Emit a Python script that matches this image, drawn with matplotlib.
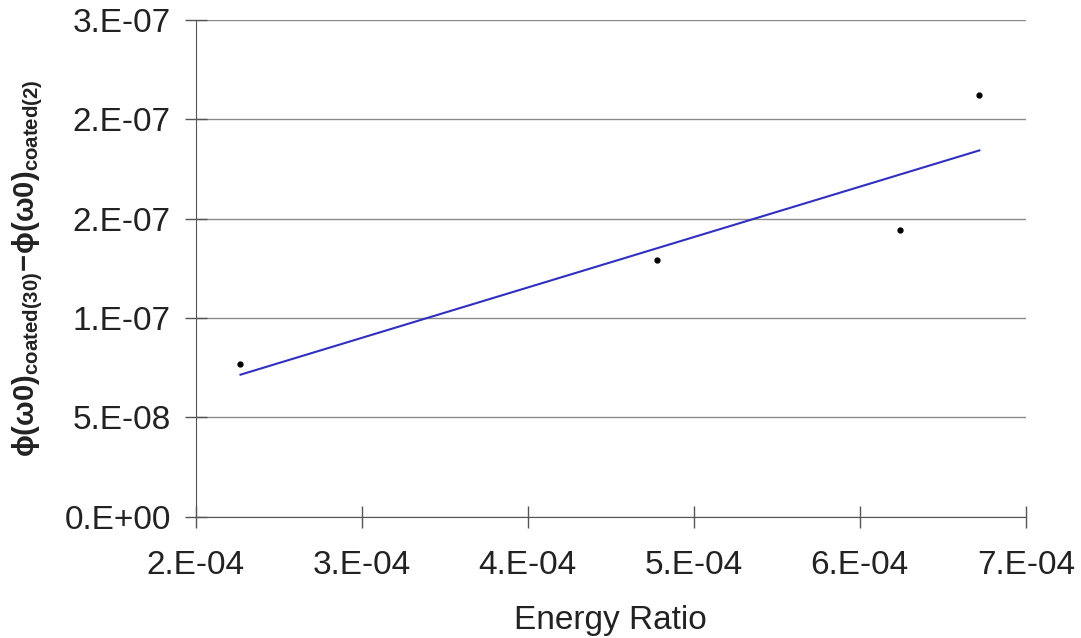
import numpy as np
import matplotlib
matplotlib.use('Agg')
from matplotlib import pyplot as plt

# values
energy_ratio = [2.27e-4, 4.78e-4, 6.24e-4, 6.72e-4]
phase_diff = [7.70e-8, 1.293e-7, 1.444e-7, 2.123e-7]

x_ticks = [2e-4, 3e-4, 4e-4, 5e-4, 6e-4, 7e-4]
x_labels = ['2.E-04', '3.E-04', '4.E-04', '5.E-04', '6.E-04', '7.E-04']
y_ticks = [0, 5e-8, 1e-7, 1.5e-7, 2e-7, 2.5e-7]
y_labels = ['0.E+00', '5.E-08', '1.E-07', '2.E-07', '2.E-07', '3.E-07']

plt.rcParams['font.family'] = ['Liberation Sans', 'DejaVu Sans']
plt.rcParams['mathtext.fontset'] = 'custom'
plt.rcParams['mathtext.rm'] = 'Liberation Sans'
plt.rcParams['mathtext.it'] = 'Liberation Sans'
plt.rcParams['mathtext.bf'] = 'Liberation Sans:bold'

fig = plt.figure(figsize=(10.81, 6.38), dpi=100)
ax = fig.add_axes([0.181, 0.19, 0.768, 0.779])

ax.plot(energy_ratio, phase_diff, 'o', color='black', markersize=3.5, zorder=3)

# linear trend line fitted to the points
slope, icpt = np.polyfit(energy_ratio, phase_diff, 1)
xs = np.array([min(energy_ratio), max(energy_ratio)])
ax.plot(xs, slope * xs + icpt, color='#3030c0', linewidth=1.5, zorder=2)

ax.set_xlim(2e-4, 7e-4)
ax.set_ylim(0, 2.5e-7)
ax.set_xticks(x_ticks)
ax.set_xticklabels(x_labels)
ax.set_yticks(y_ticks)
ax.set_yticklabels(y_labels)
ax.tick_params(axis='both', labelsize=24, labelcolor='#222222', color='#555555',
               direction='inout', length=16, width=1)
ax.tick_params(axis='x', pad=16)
ax.tick_params(axis='y', pad=10)

ax.yaxis.grid(True, color='#8a8a8a', linewidth=1)
ax.set_axisbelow(True)
for side in ['top', 'right']:
    ax.spines[side].set_visible(False)
for side in ['left', 'bottom']:
    ax.spines[side].set_color('#555555')

ax.set_xlabel('Energy Ratio', fontsize=24, color='#222222', labelpad=17)
ax.set_ylabel(r'$\mathbf{\phi(\omega 0)_{coated(30)}\!-\!\phi(\omega 0)_{coated(2)}}$',
              fontsize=21, color='#222222')
ax.yaxis.set_label_coords(-0.182, 0.5)

fig.savefig('out.png', dpi=100)
